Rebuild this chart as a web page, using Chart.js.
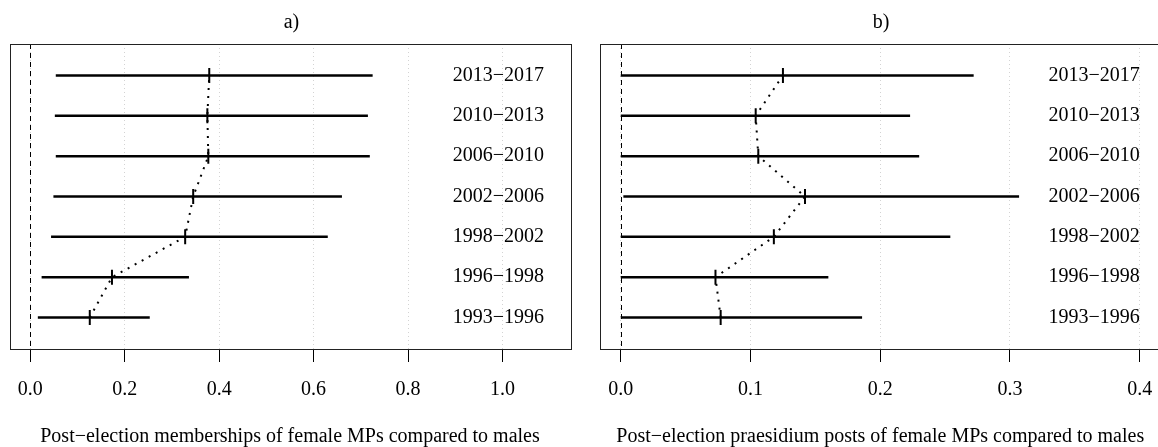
<!DOCTYPE html>
<html>
<head>
<meta charset="utf-8">
<script src="https://cdn.jsdelivr.net/npm/chart.js@4.4.0/dist/chart.umd.min.js"></script>
<style>
  html, body { margin:0; padding:0; background:#fff; overflow:hidden; width:1158px; height:447px; }
  canvas { position:absolute; top:0; }
  #chartA { left:0; }
  #chartB { left:580px; }
</style>
</head>
<body>
<canvas id="chartA" width="580" height="447"></canvas>
<canvas id="chartB" width="590" height="447"></canvas>
<script>
// election periods, bottom row first
const periods = ['1993\u22121996', '1996\u22121998', '1998\u22122002', '2002\u22122006', '2006\u22122010', '2010\u22122013', '2013\u22122017'];

// a) memberships
const membEst = [0.126, 0.173, 0.328, 0.345, 0.377, 0.375, 0.379];
const membLo  = [0.016, 0.024, 0.044, 0.049, 0.054, 0.052, 0.054];
const membHi  = [0.253, 0.336, 0.630, 0.660, 0.719, 0.715, 0.725];
const membTicks = [0, 0.2, 0.4, 0.6, 0.8, 1.0];

// b) praesidium posts
const presEst = [0.077, 0.073, 0.118, 0.142, 0.106, 0.104, 0.125];
const presLo  = [0, 0, 0, 0.002, 0, 0, 0];
const presHi  = [0.186, 0.160, 0.254, 0.307, 0.230, 0.223, 0.272];
const presTicks = [0, 0.1, 0.2, 0.3, 0.4];

const serif = "'Liberation Serif', 'Times New Roman', serif";

// box around plot, dashed line at zero, period labels on the right
const framePlugin = {
  id: 'frame',
  afterDatasetsDraw(chart, args, opts) {
    const ctx = chart.ctx;
    const a = chart.chartArea;
    const x = chart.scales.x, y = chart.scales.y;
    ctx.save();
    ctx.strokeStyle = '#000';
    ctx.lineWidth = 1;
    ctx.setLineDash([5, 4]);
    const x0 = Math.round(x.getPixelForValue(0)) + 0.5;
    ctx.beginPath();
    ctx.moveTo(x0, a.top);
    ctx.lineTo(x0, a.bottom);
    ctx.stroke();
    ctx.setLineDash([]);
    ctx.strokeStyle = '#222';
    ctx.strokeRect(Math.round(a.left) + 0.5, Math.round(a.top) + 0.5, Math.round(a.width), Math.round(a.height));
    ctx.font = '20px ' + serif;
    ctx.fillStyle = '#000';
    ctx.textAlign = 'right';
    ctx.textBaseline = 'middle';
    opts.labels.forEach((p, i) => {
      ctx.fillText(p, x.getPixelForValue(opts.labelX), y.getPixelForValue(i + 1));
    });
    ctx.restore();
  }
};

function makePanel(id, title, xTitle, lo, hi, est, tickVals, xMin, xMax, labelX, padL, padR) {
  let ciSets = lo.map((v, i) => ({
    data: [{x: v, y: i + 1}, {x: hi[i], y: i + 1}],
    borderColor: '#000',
    borderWidth: 2.5,
    pointRadius: 0
  }));
  let dotted = {
    data: est.map((v, i) => ({x: v, y: i + 1})),
    borderColor: '#000',
    borderWidth: 2,
    borderDash: [2, 6],
    pointRadius: 0,
    tension: 0
  };
  let marks = {
    data: est.map((v, i) => ({x: v, y: i + 1})),
    showLine: false,
    pointStyle: 'line',
    rotation: 90,
    pointRadius: 7.5,
    pointBorderWidth: 2,
    pointBorderColor: '#000'
  };

  return new Chart(document.getElementById(id), {
    type: 'line',
    data: { datasets: [...ciSets, dotted, marks] },
    options: {
      responsive: false,
      animation: false,
      layout: { padding: { left: padL, right: padR, top: 0, bottom: 0 } },
      plugins: {
        legend: { display: false },
        tooltip: { enabled: false },
        title: {
          display: true, text: title, color: '#000',
          font: { family: serif, size: 20, weight: 'normal' },
          padding: { top: 11, bottom: 9 }
        },
        frame: { labels: periods, labelX: labelX }
      },
      scales: {
        x: {
          type: 'linear', min: xMin, max: xMax,
          afterBuildTicks: s => { s.ticks = tickVals.map(v => ({value: v})); },
          afterFit: s => { s.height = 98; },
          ticks: {
            color: '#000', font: { family: serif, size: 20 }, padding: 16,
            autoSkip: false, maxRotation: 0,
            callback: v => v.toFixed(1)
          },
          grid: { color: '#d3d3d3', lineWidth: 1, tickLength: 13, tickColor: '#000', tickWidth: 1, tickBorderDash: [] },
          border: { display: false, dash: [1, 3] },
          title: {
            display: true, text: xTitle, color: '#000',
            font: { family: serif, size: 20, lineHeight: 1 },
            padding: { top: 0, bottom: 0 }
          }
        },
        y: { type: 'linear', min: 0.22, max: 7.78, display: false }
      }
    },
    plugins: [framePlugin]
  });
}

makePanel('chartA', 'a)', 'Post\u2212election memberships of female MPs compared to males',
  membLo, membHi, membEst, membTicks, -0.044, 1.144, 1.088, 9, 6);
makePanel('chartB', 'b)', 'Post\u2212election praesidium posts of female MPs compared to males',
  presLo, presHi, presEst, presTicks, -0.016, 0.416, 0.4, 20, 8);
</script>
</body>
</html>
